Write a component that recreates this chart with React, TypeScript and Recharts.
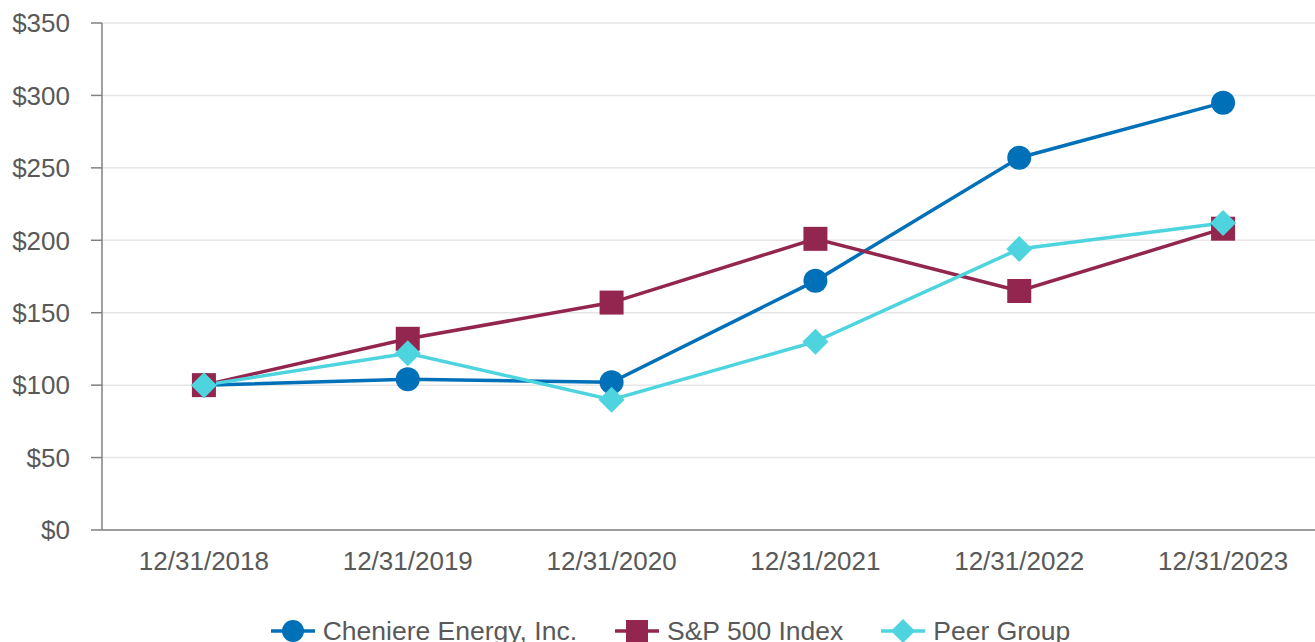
import React from 'react';
import { LineChart, Line, XAxis, YAxis, CartesianGrid, Legend } from 'recharts';

const years = ['12/31/2018', '12/31/2019', '12/31/2020', '12/31/2021', '12/31/2022', '12/31/2023'];
const cheniere = [100, 104, 102, 172, 257, 295];
const sp500 = [100, 132, 157, 201, 165, 208];
const peers = [100, 122, 90, 130, 194, 212];
const yTicks = [0, 50, 100, 150, 200, 250, 300, 350];

const BLUE = '#0070b8';
const WINE = '#93264f';
const CYAN = '#4dd4de';
const TEXT = '#595959';
const AXIS = '#808080';
const FONT = '"Liberation Sans", Arial, sans-serif';

const data = years.map((date, i) => ({
  date,
  cheniere: cheniere[i],
  sp500: sp500[i],
  peers: peers[i],
}));

type Shape = 'circle' | 'square' | 'diamond';

function Marker({ shape, cx, cy, color, size }: { shape: Shape; cx: number; cy: number; color: string; size: number }) {
  if (shape === 'circle') return <circle cx={cx} cy={cy} r={size} fill={color} />;
  if (shape === 'square') return <rect x={cx - size} y={cy - size} width={size * 2} height={size * 2} fill={color} />;
  return (
    <polygon
      points={`${cx},${cy - size} ${cx + size},${cy} ${cx},${cy + size} ${cx - size},${cy}`}
      fill={color}
    />
  );
}

const makeDot = (shape: Shape, color: string, size: number) => (props: any) => (
  <Marker key={`${shape}-${props.index}`} shape={shape} cx={props.cx} cy={props.cy} color={color} size={size} />
);

const legendItems: { label: string; color: string; shape: Shape; size: number }[] = [
  { label: 'Cheniere Energy, Inc.', color: BLUE, shape: 'circle', size: 11 },
  { label: 'S&P 500 Index', color: WINE, shape: 'square', size: 11 },
  { label: 'Peer Group', color: CYAN, shape: 'diamond', size: 12 },
];

function ChartLegend() {
  return (
    <div style={{ height: 70, paddingTop: 28, paddingLeft: 16, boxSizing: 'border-box', display: 'flex', justifyContent: 'center', gap: 38 }}>
      {legendItems.map(it => (
        <div key={it.label} style={{ display: 'flex', alignItems: 'center', height: 26 }}>
          <svg width={44} height={26}>
            <line x1={0} y1={13} x2={44} y2={13} stroke={it.color} strokeWidth={3.5} />
            <Marker shape={it.shape} cx={22} cy={13} color={it.color} size={it.size} />
          </svg>
          <span style={{ marginLeft: 8, fontFamily: FONT, fontSize: 26.5, color: TEXT, lineHeight: '26px' }}>{it.label}</span>
        </div>
      ))}
    </div>
  );
}

export default function App() {
  const tick = { fill: TEXT, fontSize: 26, fontFamily: FONT };
  return (
    <div style={{ position: 'absolute', left: 0, top: 0, width: 1315, height: 642, overflow: 'hidden', background: '#fff' }}>
      <LineChart width={1330} height={660} data={data} margin={{ top: 23, right: 5, left: 0, bottom: 0 }}>
        <CartesianGrid vertical={false} stroke="#e6e6e6" strokeWidth={1.5} />
        <XAxis
          dataKey="date"
          scale="band"
          height={60}
          tickLine={false}
          tickSize={0}
          tickMargin={22}
          axisLine={{ stroke: AXIS, strokeWidth: 1.5 }}
          tick={tick}
          interval={0}
        />
        <YAxis
          width={102}
          domain={[0, 350]}
          ticks={yTicks}
          tickFormatter={(v: number) => `$${v}`}
          tickSize={11}
          tickMargin={21}
          tickLine={{ stroke: AXIS, strokeWidth: 1.5 }}
          axisLine={{ stroke: AXIS, strokeWidth: 1.5 }}
          tick={tick}
          interval={0}
        />
        <Legend verticalAlign="bottom" content={() => <ChartLegend />} />
        <Line dataKey="cheniere" name="Cheniere Energy, Inc." stroke={BLUE} strokeWidth={3.5} dot={makeDot('circle', BLUE, 12)} activeDot={false} isAnimationActive={false} />
        <Line dataKey="sp500" name="S&P 500 Index" stroke={WINE} strokeWidth={3.5} dot={makeDot('square', WINE, 12)} activeDot={false} isAnimationActive={false} />
        <Line dataKey="peers" name="Peer Group" stroke={CYAN} strokeWidth={3.5} dot={makeDot('diamond', CYAN, 13)} activeDot={false} isAnimationActive={false} />
      </LineChart>
    </div>
  );
}
